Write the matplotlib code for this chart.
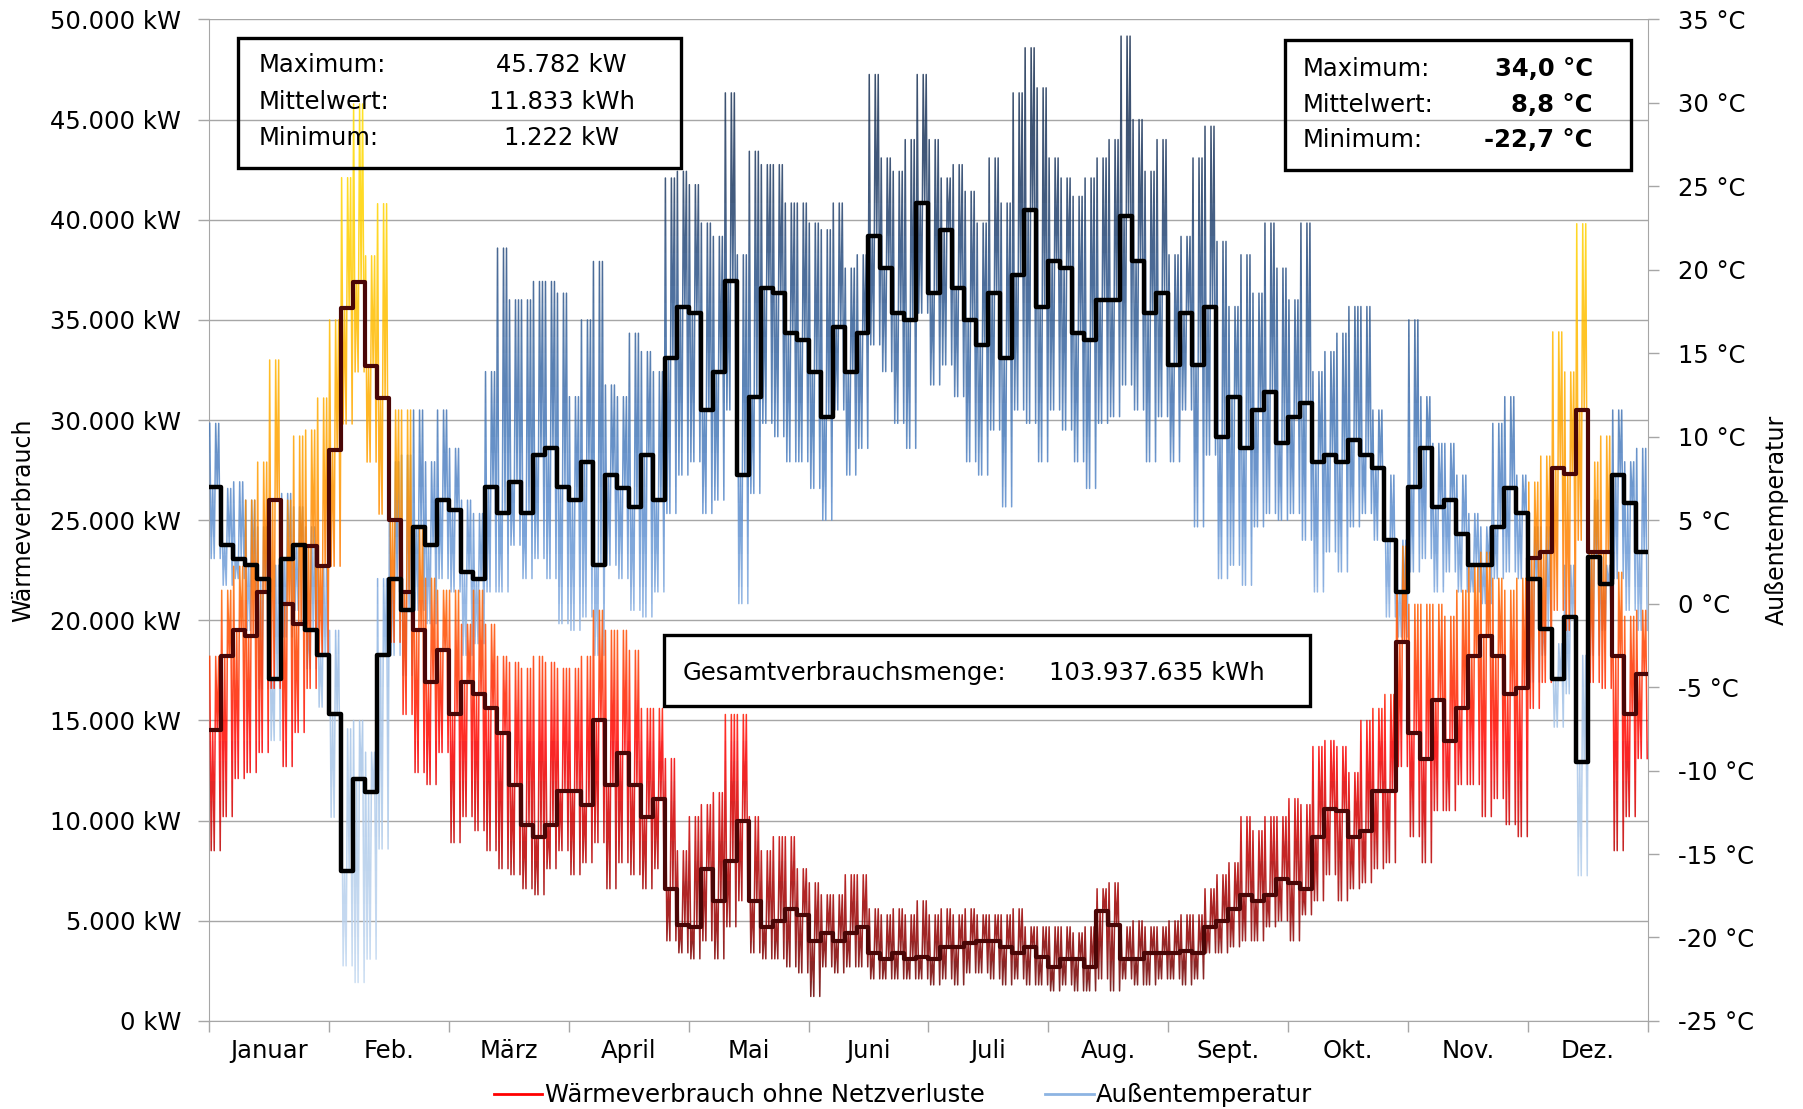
import numpy as np
import matplotlib
matplotlib.use("Agg")
import matplotlib.pyplot as plt
from matplotlib.colors import LinearSegmentedColormap
from matplotlib.patches import Rectangle
from matplotlib.lines import Line2D
from matplotlib.ticker import FuncFormatter, NullFormatter

# Monate (gleich breit), je 10 Werte pro Monat (~3 Tage pro Wert)
months = ["Januar", "Feb.", "März", "April", "Mai", "Juni",
          "Juli", "Aug.", "Sept.", "Okt.", "Nov.", "Dez."]

# Wärmeverbrauch: Mittelwert (dunkle Linie), Spitzen oben/unten in kW
heat_mean = [14500, 18200, 19500, 19200, 21400, 26000, 20800, 19800, 23700, 22700,
             28500, 35600, 36900, 32700, 31100, 25000, 21400, 19500, 16900, 18500,
             15300, 16900, 16300, 15600, 14400, 11800, 9800, 9200, 9800, 11500,
             11500, 10800, 15000, 11800, 13400, 11800, 10200, 11100, 6600, 4800,
             4700, 7600, 6000, 8000, 10000, 6000, 4700, 5000, 5600, 5300,
             4000, 4400, 4000, 4400, 4700, 3400, 3100, 3400, 3100, 3200,
             3100, 3700, 3700, 3900, 4000, 4000, 3700, 3400, 3700, 3200,
             2700, 3100, 3100, 2700, 5500, 4800, 3100, 3100, 3400, 3400,
             3400, 3500, 3400, 4700, 5000, 5600, 6300, 6000, 6300, 7100,
             6900, 6600, 9200, 10600, 10500, 9200, 9500, 11500, 11500, 18900,
             14400, 13100, 16000, 14000, 15600, 18200, 19200, 18200, 16300, 16600,
             23100, 23400, 27600, 27300, 30500, 23400, 23400, 18200, 15300, 17300]
heat_hi = [18200, 21500, 22700, 26000, 27900, 33000, 26000, 29200, 29500, 31100,
           35000, 42100, 45782, 38200, 40800, 30500, 30500, 24700, 22100, 21500,
           21500, 19800, 21500, 19800, 18200, 17900, 17600, 18200, 17900, 17600,
           17600, 18200, 20500, 19500, 19500, 18500, 15600, 15600, 13100, 8500,
           10200, 10800, 11400, 15300, 15300, 10200, 8500, 9200, 9200, 7600,
           6900, 6300, 6300, 7300, 7300, 5600, 5300, 5600, 5300, 6000,
           5300, 5600, 5300, 5600, 5300, 5300, 5300, 5600, 4700, 4700,
           4700, 4700, 4400, 4700, 6600, 6900, 4700, 5000, 4700, 4700,
           5000, 5300, 5300, 6600, 7300, 7900, 10200, 9500, 10200, 10200,
           11100, 10800, 13700, 14000, 13700, 12400, 15000, 15600, 16300, 23700,
           20800, 20800, 20800, 20200, 21500, 22700, 23400, 22100, 21500, 22100,
           26900, 28200, 34400, 32400, 39800, 27900, 29200, 22400, 20200, 20500]
heat_lo = [8500, 10200, 12100, 12400, 13400, 16600, 12700, 14400, 16600, 18200,
           22700, 29800, 32400, 27900, 25300, 18900, 15300, 12400, 11800, 13400,
           8900, 10200, 9500, 8500, 7600, 7300, 6600, 6300, 7600, 8500,
           7300, 7900, 8900, 6600, 7900, 7300, 6600, 7600, 4000, 3400,
           3100, 4000, 3100, 4700, 6000, 3400, 3100, 3100, 2700, 2400,
           1222, 2700, 2400, 2700, 2700, 2100, 2100, 2100, 2100, 2100,
           1800, 2100, 1800, 2400, 2400, 2100, 1800, 2100, 1800, 1800,
           1500, 1800, 1500, 1500, 2100, 1500, 2100, 1800, 1800, 2100,
           2100, 1800, 2100, 3400, 3400, 3700, 4000, 4000, 4700, 5000,
           4000, 5300, 6000, 7300, 6000, 6600, 6900, 7600, 7900, 12700,
           9200, 7900, 10500, 10500, 11800, 11800, 10200, 11100, 9800, 9200,
           15600, 16900, 20500, 19500, 24000, 16900, 16600, 8500, 10200, 13100]

# Außentemperatur in °C
temp_mean = [7.0, 3.5, 2.7, 2.3, 1.5, -4.5, 2.7, 3.5, -1.6, -3.1,
             -6.6, -16.0, -10.5, -11.3, -3.1, 1.5, -0.4, 4.6, 3.5, 6.2,
             5.6, 1.9, 1.5, 7.0, 5.4, 7.3, 5.4, 8.9, 9.3, 7.0,
             6.2, 8.5, 2.3, 7.7, 6.9, 5.8, 8.9, 6.2, 14.7, 17.8,
             17.4, 11.6, 13.9, 19.3, 7.7, 12.4, 18.9, 18.6, 16.2, 15.8,
             13.9, 11.2, 16.6, 13.9, 16.2, 22.0, 20.1, 17.4, 17.0, 24.0,
             18.6, 22.4, 18.9, 17.0, 15.5, 18.6, 14.7, 19.7, 23.6, 17.8,
             20.5, 20.1, 16.2, 15.8, 18.2, 18.2, 23.2, 20.5, 17.4, 18.6,
             14.3, 17.4, 14.3, 17.8, 10.0, 12.4, 9.3, 11.6, 12.7, 9.6,
             11.2, 12.0, 8.5, 8.9, 8.5, 9.8, 8.9, 8.1, 3.8, 0.7,
             7.0, 9.3, 5.8, 6.2, 4.2, 2.3, 2.3, 4.6, 6.9, 5.4,
             1.5, -1.5, -4.5, -0.8, -9.5, 2.8, 1.2, 7.7, 6.0, 3.1]
temp_hi = [10.8, 6.9, 7.3, 6.2, 4.6, 2.3, 6.6, 5.8, 4.6, 2.3,
           -1.6, -7.5, -7.0, -8.9, 1.5, 8.5, 8.9, 11.6, 8.5, 11.6,
           9.3, 6.2, 5.4, 13.9, 21.3, 18.2, 18.2, 19.3, 19.3, 18.6,
           12.4, 17.0, 20.5, 13.1, 12.4, 16.2, 15.1, 13.9, 25.5, 25.9,
           25.1, 22.8, 22.0, 30.6, 20.9, 27.1, 26.3, 26.3, 24.0, 24.0,
           22.8, 22.4, 24.0, 20.1, 20.9, 31.7, 26.7, 25.9, 27.8, 31.7,
           27.8, 25.5, 26.3, 24.7, 22.8, 26.7, 24.0, 30.6, 33.3, 30.9,
           26.7, 25.5, 24.4, 25.5, 26.7, 27.8, 34.0, 29.0, 25.9, 27.8,
           20.9, 22.0, 26.7, 28.6, 21.7, 17.8, 20.9, 18.6, 22.8, 20.1,
           18.2, 22.8, 13.9, 15.1, 16.2, 17.8, 17.8, 11.6, 7.7, 3.8,
           17.0, 12.4, 9.6, 9.6, 7.7, 5.4, 4.6, 10.8, 12.4, 7.7,
           4.6, 4.6, -2.4, 2.3, -3.1, 6.2, 2.3, 11.6, 8.5, 9.3]
temp_lo = [2.7, 1.1, 1.5, -1.6, -5.1, -8.2, -2.0, -0.4, -3.9, -6.2,
           -12.8, -21.7, -22.7, -21.3, -14.7, -3.1, -4.3, -0.4, -1.2, 1.5,
           0.7, -3.1, -2.4, 0.7, 0.7, 3.5, 1.5, 2.7, 1.5, -1.2,
           -1.6, -0.8, -3.1, 2.3, 1.5, -0.4, -0.8, 0.7, 5.4, 7.7,
           8.5, 5.4, 6.2, 11.6, 0.0, 6.6, 10.8, 10.0, 8.5, 8.5,
           6.9, 5.0, 11.6, 7.7, 9.3, 15.5, 13.9, 10.8, 9.3, 17.4,
           13.1, 14.3, 12.4, 8.5, 7.7, 10.4, 5.8, 11.6, 10.8, 8.5,
           11.6, 10.4, 8.5, 6.9, 10.8, 11.2, 13.1, 11.6, 8.5, 11.2,
           8.5, 11.6, 4.6, 8.9, 1.5, 2.3, 1.1, 4.6, 5.4, 5.0,
           5.4, 3.8, 0.7, 3.1, 1.9, 4.6, 5.4, 3.8, -0.8, -2.0,
           1.9, 2.7, 0.7, 1.9, 0.7, 0.7, 0.0, 1.5, 1.9, 1.5,
           -4.7, -3.1, -7.4, -5.4, -16.3, -3.1, -1.6, 1.5, -0.4, -1.6]

heat_cmap = LinearSegmentedColormap.from_list("heat", [
    (0.0, "#5a0000"), (0.08, "#8b0000"), (0.14, "#a80000"), (0.2, "#d00000"),
    (0.28, "#ff0000"), (0.36, "#ff3c00"), (0.44, "#ff7000"), (0.54, "#ff9a00"),
    (0.66, "#ffb400"), (0.78, "#ffd000"), (1.0, "#ffe600")])
temp_cmap = LinearSegmentedColormap.from_list("temp", [
    (0.0, "#c6dbf2"), (0.1667, "#b3cdeb"), (0.333, "#a0c0e6"), (0.4167, "#84ace0"),
    (0.5, "#5f90d0"), (0.583, "#4a7cbc"), (0.667, "#3a68a3"), (0.75, "#2c5285"),
    (0.833, "#203d66"), (1.0, "#172c4c")])


def zigzag(hi, lo, mid):
    # Tagesgang je Wert: volle Ausschläge bis hi/lo, dazwischen bis zum Mittel
    hi = np.asarray(hi, float)
    lo = np.asarray(lo, float)
    mid = np.asarray(mid, float)
    pattern = np.column_stack([hi, lo, mid, lo, hi, mid, hi, lo])
    n, k = pattern.shape
    x = (np.arange(n)[:, None] + (np.arange(k) + 0.5) / k) / 10.0
    return x.ravel(), pattern.ravel()


def banded(axis, x, y, cmap, vmin, vmax, step, lw, alpha):
    edges = np.arange(vmin, vmax + step * 0.5, step)
    for a, b in zip(edges[:-1], edges[1:]):
        c = cmap((0.5 * (a + b) - vmin) / (vmax - vmin))
        ln, = axis.plot(x, y, color=c, lw=lw, alpha=alpha)
        ln.set_clip_path(Rectangle((0, a), 12, b - a, transform=axis.transData))


plt.rcParams["font.family"] = "DejaVu Sans"
plt.rcParams["font.size"] = 17.5

fig = plt.figure(figsize=(18.03, 11.09), dpi=100)
pos = [0.1159, 0.0794, 0.7981, 0.9031]
grid_c = "#a6a6a6"

ax = fig.add_axes(pos)                      # Hintergrund, Gitter, linke Achse
ax_t = ax.twinx()                           # Temperatur-Spitzen, rechte Achse
ax_h = fig.add_axes(pos, sharex=ax, sharey=ax)   # Wärmeverbrauch
ax_tm = fig.add_axes(pos, sharex=ax, sharey=ax_t)  # Temperatur-Mittel
ax.set_zorder(0)
ax_t.set_zorder(1)
ax_h.set_zorder(2)
ax_tm.set_zorder(3)
for a in (ax_t, ax_h, ax_tm):
    a.patch.set_visible(False)
ax_h.axis("off")
ax_tm.axis("off")

ax.set_xlim(0, 12)
ax.set_ylim(0, 50000)
ax_t.set_ylim(-25, 35)

# Linien
xs, ys = zigzag(temp_hi, temp_lo, temp_mean)
banded(ax_t, xs, ys, temp_cmap, -25, 35, 1, 1.1, 0.85)
xs, ys = zigzag(heat_hi, heat_lo, heat_mean)
banded(ax_h, xs, ys, heat_cmap, 0, 50000, 1000, 1.1, 0.85)

xe = np.arange(len(heat_mean) + 1) / 10.0
ax_h.plot(xe, heat_mean + heat_mean[-1:], drawstyle="steps-post",
          color="#4a0606", lw=3.0)
ax_tm.plot(xe, temp_mean + temp_mean[-1:], drawstyle="steps-post",
           color="black", lw=3.2)

# Achsen
ax.set_yticks(np.arange(0, 50001, 5000))
ax.yaxis.set_major_formatter(FuncFormatter(
    lambda v, p: f"{int(round(v)):,}".replace(",", ".") + " kW"))
ax.yaxis.grid(True, color=grid_c, lw=1.0)
ax.set_xticks(np.arange(13))
ax.xaxis.set_major_formatter(NullFormatter())
ax.set_xticks(np.arange(0.5, 12, 1), labels=months, minor=True)
ax.tick_params(axis="x", which="major", length=8, color=grid_c, width=1)
ax.tick_params(axis="x", which="minor", length=0, pad=13)
ax.tick_params(axis="y", length=8, color=grid_c, width=1, pad=12)
for s in ("left", "bottom"):
    ax.spines[s].set_color(grid_c)
ax.spines["top"].set_visible(False)
ax.spines["right"].set_visible(False)

ax_t.set_yticks(np.arange(-25, 36, 5))
ax_t.yaxis.set_major_formatter(FuncFormatter(lambda v, p: f"{v:.0f} °C"))
ax_t.tick_params(axis="y", length=8, color=grid_c, width=1, pad=14)
for s in ("left", "top", "bottom"):
    ax_t.spines[s].set_visible(False)
ax_t.spines["right"].set_color(grid_c)

ax.set_ylabel("Wärmeverbrauch", fontsize=17)
ax.yaxis.set_label_coords(-0.129, 0.5)
ax.yaxis.label.set_va("center")
ax_t.set_ylabel("Außentemperatur", fontsize=17, rotation=90)
ax_t.yaxis.set_label_coords(1.0896, 0.5)
ax_t.yaxis.label.set_va("center")

# Infoboxen
tr = ax_tm.transAxes
ax_tm.add_patch(Rectangle((0.020, 0.852), 0.308, 0.1295, transform=tr, fill=False,
                          ec="black", lw=2.4, clip_on=False, zorder=10))
rows = [("Maximum:", "45.782 kW"), ("Mittelwert:", "11.833 kWh"), ("Minimum:", "1.222 kW")]
for (lab, val), yy in zip(rows, [0.954, 0.918, 0.882]):
    ax_tm.text(0.0347, yy, lab, transform=tr, ha="left", va="center", zorder=11)
    ax_tm.text(0.245, yy, val, transform=tr, ha="center", va="center", zorder=11)

ax_tm.add_patch(Rectangle((0.748, 0.8497), 0.240, 0.130, transform=tr, fill=False,
                          ec="black", lw=2.4, clip_on=False, zorder=10))
rows = [("Maximum:", "34,0 °C"), ("Mittelwert:", "8,8 °C"), ("Minimum:", "-22,7 °C")]
for (lab, val), yy in zip(rows, [0.9505, 0.915, 0.880]):
    ax_tm.text(0.760, yy, lab, transform=tr, ha="left", va="center", zorder=11)
    ax_tm.text(0.9618, yy, val, transform=tr, ha="right", va="center",
               fontweight="bold", zorder=11)

ax_tm.add_patch(Rectangle((0.316, 0.3145), 0.449, 0.0709, transform=tr, fc="white",
                          ec="black", lw=2.4, clip_on=False, zorder=10))
ax_tm.text(0.329, 0.3475, "Gesamtverbrauchsmenge:", transform=tr, ha="left",
           va="center", zorder=11)
ax_tm.text(0.5837, 0.3475, "103.937.635 kWh", transform=tr, ha="left",
           va="center", zorder=11)

# Legende
handles = [Line2D([], [], color="#ff0000", lw=2),
           Line2D([], [], color="#8db4e2", lw=2)]
fig.legend(handles, ["Wärmeverbrauch ohne Netzverluste", "Außentemperatur"],
           loc="center", bbox_to_anchor=(0.5008, 0.0126), ncol=2, frameon=False,
           handlelength=2.0, handletextpad=0.1, columnspacing=2.5, fontsize=17.5)

fig.savefig("out.png", dpi=100)
